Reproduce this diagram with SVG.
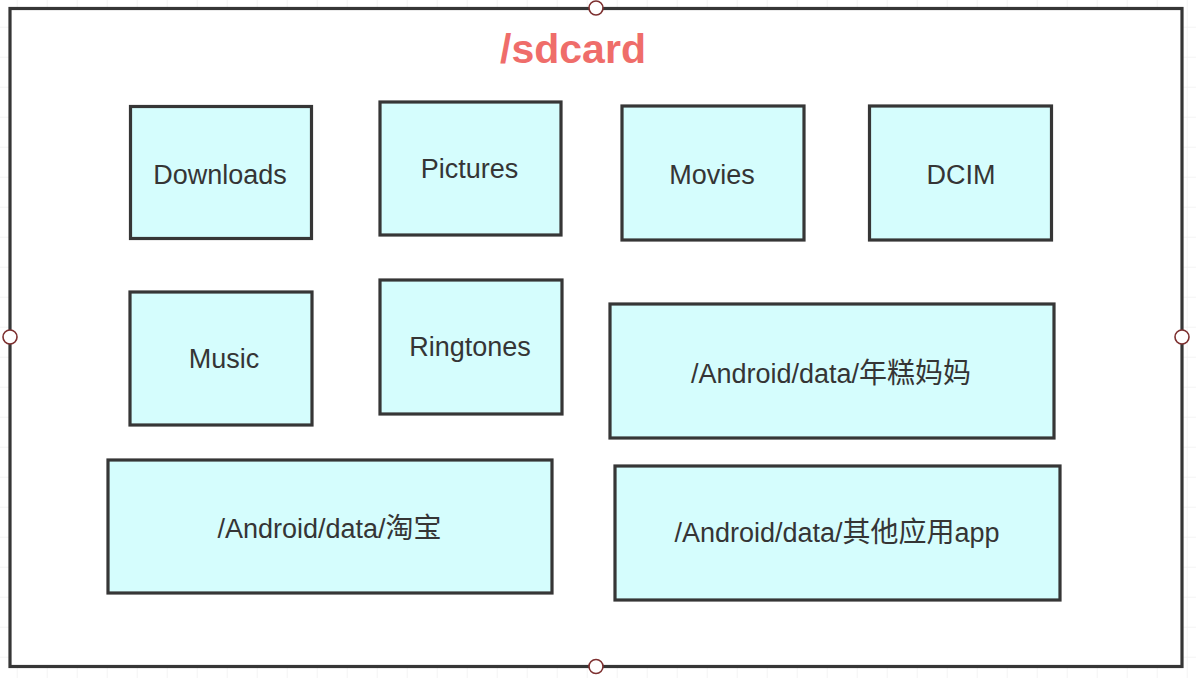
<svg xmlns="http://www.w3.org/2000/svg" width="1196" height="678" viewBox="0 0 1196 678">
  <defs>
    <pattern id="grid" x="16.7" y="26.7" width="30" height="30" patternUnits="userSpaceOnUse">
      <path d="M0 0 V30 M0 0 H30" fill="none" stroke="#e9e9e9" stroke-width="1"/>
    </pattern>
  </defs>
  <style>
    .box { fill: #d5fdfd; stroke: #363636; stroke-width: 3.2; }
    .lbl { font-family: "Liberation Sans", Arial, "Noto Sans CJK SC", sans-serif; font-size: 27px; fill: #353535; text-anchor: middle; }
    .cjk { font-size: 28px; }
    .title { font-family: "Liberation Sans", Arial, sans-serif; font-size: 41px; font-weight: bold; fill: #ef6d6a; text-anchor: middle; }
    .handle { fill: #ffffff; stroke: #7d2f2f; stroke-width: 1.6; }
  </style>
  <rect x="0" y="0" width="1196" height="678" fill="#ffffff"/>
  <rect x="0" y="0" width="1196" height="678" fill="url(#grid)"/>

  <g id="sdcard">
    <rect x="10" y="8.5" width="1172" height="658" fill="#ffffff" stroke="#363636" stroke-width="3.2"/>
    <text class="title" x="573" y="63">/sdcard</text>
  </g>

  <g id="downloads">
    <rect class="box" x="130.5" y="106.5" width="181" height="132"/>
    <text class="lbl" x="220" y="184">Downloads</text>
  </g>
  <g id="pictures">
    <rect class="box" x="380" y="102" width="181" height="133"/>
    <text class="lbl" x="469.5" y="178">Pictures</text>
  </g>
  <g id="movies">
    <rect class="box" x="622" y="106" width="182" height="134"/>
    <text class="lbl" x="712" y="184">Movies</text>
  </g>
  <g id="dcim">
    <rect class="box" x="869.5" y="106" width="182" height="134"/>
    <text class="lbl" x="961" y="184">DCIM</text>
  </g>
  <g id="music">
    <rect class="box" x="130" y="292" width="182" height="133"/>
    <text class="lbl" x="224" y="368">Music</text>
  </g>
  <g id="ringtones">
    <rect class="box" x="380" y="280" width="182" height="134"/>
    <text class="lbl" x="470" y="356">Ringtones</text>
  </g>
  <g id="niangao">
    <rect class="box" x="610" y="304" width="444" height="134"/>
    <text class="lbl" x="831" y="383">/Android/data/<tspan class="cjk">年糕妈妈</tspan></text>
  </g>
  <g id="taobao">
    <rect class="box" x="108" y="460" width="444" height="133"/>
    <text class="lbl" x="329.5" y="538">/Android/data/<tspan class="cjk">淘宝</tspan></text>
  </g>
  <g id="otherapps">
    <rect class="box" x="615" y="466" width="445" height="134"/>
    <text class="lbl" x="837" y="542">/Android/data/<tspan class="cjk">其他应用</tspan>app</text>
  </g>

  <g id="connectors"></g>

  <g id="handles">
    <circle class="handle" cx="596" cy="8" r="7"/>
    <circle class="handle" cx="10" cy="337" r="7"/>
    <circle class="handle" cx="1182" cy="337" r="7"/>
    <circle class="handle" cx="596" cy="666.5" r="7"/>
  </g>
</svg>
